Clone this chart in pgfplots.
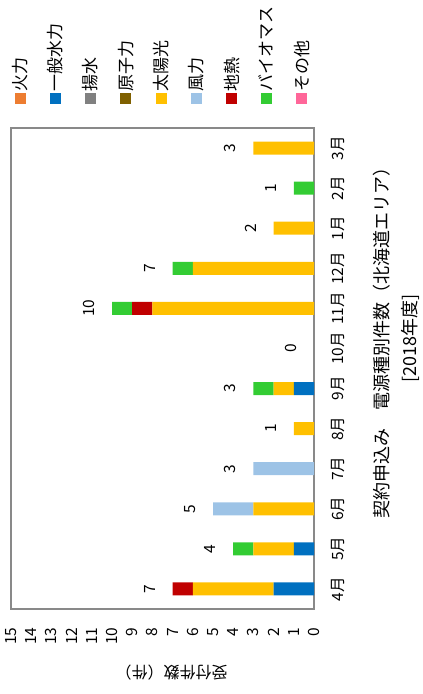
\documentclass[border=0pt]{standalone}
\usepackage{graphicx}
\usepackage{fontspec}
\setmainfont{Noto Sans CJK JP}
\usepackage{pgfplots}
\pgfplotsset{compat=1.18}
\definecolor{cKaryoku}{HTML}{ED7D31}
\definecolor{cSuiryoku}{HTML}{0070C0}
\definecolor{cYosui}{HTML}{808080}
\definecolor{cGenshi}{HTML}{7F6000}
\definecolor{cTaiyo}{HTML}{FFC000}
\definecolor{cFuryoku}{HTML}{9DC3E6}
\definecolor{cChinetsu}{HTML}{C00000}
\definecolor{cBio}{HTML}{33CC33}
\definecolor{cOther}{HTML}{FF6699}
\definecolor{axgray}{HTML}{898989}
\newcommand{\fs}[1]{\fontsize{#1}{#1}\selectfont}
\pgfplotstableread{
x total
0 7
1 4
2 5
3 3
4 1
5 3
6 0
7 10
8 7
9 2
10 1
11 3
}\totals
\begin{document}
\rotatebox{90}{%
\begin{tikzpicture}
\path[use as bounding box] (0,0) rectangle (694pt,-423pt);
\begin{axis}[
  at={(85pt,-11pt)}, anchor=north west,
  scale only axis, width=481pt, height=303pt,
  ybar stacked, bar width=13pt,
  xmin=-0.5, xmax=11.5, ymin=0, ymax=15,
  xtick={0,...,11},
  xticklabels={4月,5月,6月,7月,8月,9月,10月,11月,12月,1月,2月,3月},
  ytick={0,...,15},
  major tick length=0pt,
  /pgf/number format/assume math mode=true,
  axis line style={draw=axgray, line width=1.5pt},
  tick label style={font=\fs{15.5}, text=black},
  yticklabel style={anchor=east, xshift=-15pt},
  xticklabel style={anchor=north, yshift=-14pt},
  ylabel={受付件数（件）},
  ylabel style={font=\fs{16}, at={(axis description cs:-0.133,0.47)}, anchor=center},
  xlabel={契約申込み　電源種別件数（北海道エリア）\\{[}2018年度]},
  xlabel style={font=\fontsize{18}{28}\selectfont, align=center, at={(axis description cs:0.562,0)}, anchor=north, yshift=-56pt},
  legend image code/.code={\fill[#1] (0pt,-5.5pt) rectangle (11pt,5.5pt);},
  legend style={at={(1,1)}, anchor=north west, xshift=24pt, yshift=0pt, draw=none, fill=none,
    font=\fs{17}, row sep=17.5pt, inner sep=0pt, nodes={inner sep=1pt}},
  legend cell align=left,
]
\addplot[fill=cKaryoku, draw=none] coordinates {(0,0) (1,0) (2,0) (3,0) (4,0) (5,0) (6,0) (7,0) (8,0) (9,0) (10,0) (11,0)};
\addlegendentry{火力}
\addplot[fill=cSuiryoku, draw=none] coordinates {(0,2) (1,1) (2,0) (3,0) (4,0) (5,1) (6,0) (7,0) (8,0) (9,0) (10,0) (11,0)};
\addlegendentry{一般水力}
\addplot[fill=cYosui, draw=none] coordinates {(0,0) (1,0) (2,0) (3,0) (4,0) (5,0) (6,0) (7,0) (8,0) (9,0) (10,0) (11,0)};
\addlegendentry{揚水}
\addplot[fill=cGenshi, draw=none] coordinates {(0,0) (1,0) (2,0) (3,0) (4,0) (5,0) (6,0) (7,0) (8,0) (9,0) (10,0) (11,0)};
\addlegendentry{原子力}
\addplot[fill=cTaiyo, draw=none] coordinates {(0,4) (1,2) (2,3) (3,0) (4,1) (5,1) (6,0) (7,8) (8,6) (9,2) (10,0) (11,3)};
\addlegendentry{太陽光}
\addplot[fill=cFuryoku, draw=none] coordinates {(0,0) (1,0) (2,2) (3,3) (4,0) (5,0) (6,0) (7,0) (8,0) (9,0) (10,0) (11,0)};
\addlegendentry{風力}
\addplot[fill=cChinetsu, draw=none] coordinates {(0,1) (1,0) (2,0) (3,0) (4,0) (5,0) (6,0) (7,1) (8,0) (9,0) (10,0) (11,0)};
\addlegendentry{地熱}
\addplot[fill=cBio, draw=none] coordinates {(0,0) (1,1) (2,0) (3,0) (4,0) (5,1) (6,0) (7,1) (8,1) (9,0) (10,1) (11,0)};
\addlegendentry{バイオマス}
\addplot[fill=cOther, draw=none] coordinates {(0,0) (1,0) (2,0) (3,0) (4,0) (5,0) (6,0) (7,0) (8,0) (9,0) (10,0) (11,0)};
\addlegendentry{その他}
\end{axis}
\begin{axis}[
  at={(85pt,-11pt)}, anchor=north west,
  scale only axis, width=481pt, height=303pt,
  xmin=-0.5, xmax=11.5, ymin=0, ymax=15,
  hide axis, clip=false,
]
\addplot[draw=none, mark=none, nodes near coords, point meta=explicit symbolic,
  nodes near coords style={font=\fs{15.5}, text=black, anchor=center, yshift=23pt}]
  table[x=x, y=total, meta=total] {\totals};
\end{axis}
\end{tikzpicture}}
\end{document}
